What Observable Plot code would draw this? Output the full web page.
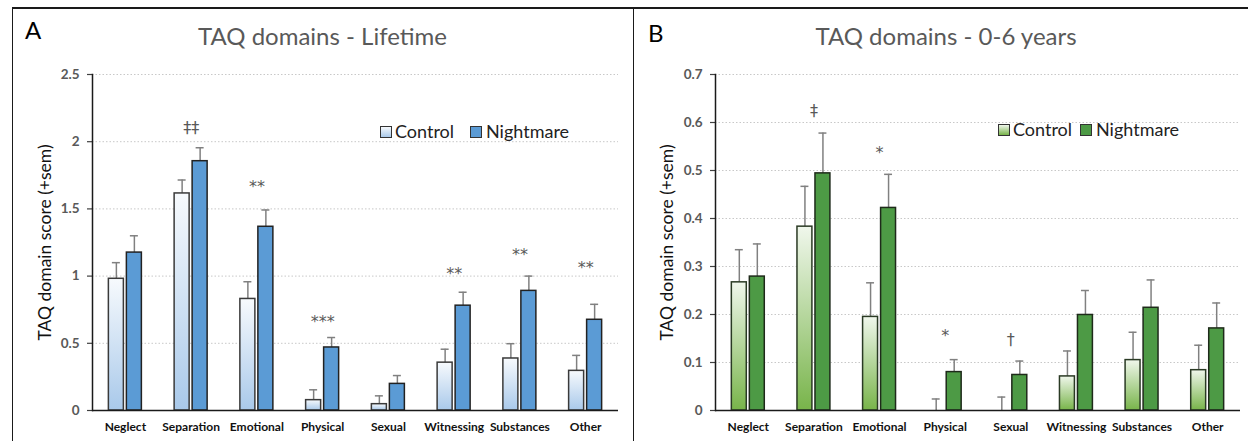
<!DOCTYPE html>
<html><head><meta charset="utf-8">
<script src="https://cdn.jsdelivr.net/npm/d3@7"></script>
<script src="https://cdn.jsdelivr.net/npm/@observablehq/plot@0.6"></script>
<style>
body{margin:0;background:#fff;font-family:Lato,"Open Sans",sans-serif;}
#page{position:relative;width:1248px;height:441px;overflow:hidden;background:#fff;}
.abs{position:absolute;white-space:nowrap;}
.line{position:absolute;background:#1a1a1a;}
.title{font-size:24px;line-height:24px;color:#595959;text-align:center;}
.letter{font-size:24px;line-height:24px;color:#000;}
.sw{position:absolute;width:10px;height:10px;border:1.5px solid #333;}
.lt{position:absolute;font-size:18px;line-height:18px;color:#222;}
</style></head><body><div id="page"></div>
<script>
const categories = ["Neglect","Separation","Emotional","Physical","Sexual","Witnessing","Substances","Other"];
const groups = ["Control","Nightmare"];

// Panel A: Lifetime
const lifetimeControl      = [0.98, 1.615, 0.83, 0.077, 0.047, 0.356, 0.387, 0.295];
const lifetimeControlSem   = [0.12, 0.10, 0.128, 0.077, 0.062, 0.10, 0.11, 0.115];
const lifetimeNightmare    = [1.175, 1.855, 1.367, 0.469, 0.198, 0.78, 0.89, 0.675];
const lifetimeNightmareSem = [0.125, 0.10, 0.125, 0.074, 0.062, 0.10, 0.11, 0.115];
const lifetimeSig   = ["", "\u2021\u2021", "**", "***", "", "**", "**", "**"];
const lifetimeSigY  = [null, 2.10, 1.69, 0.69, null, 1.05, 1.19, 1.09];
const lifetimeTicks = [0, 0.5, 1, 1.5, 2, 2.5];
const lifetimeTickLabels = ["0", "0.5", "1", "1.5", "2", "2.5"];

// Panel B: 0-6 years
const earlyControl      = [0.267, 0.383, 0.195, 0, 0, 0.071, 0.105, 0.084];
const earlyControlSem   = [0.068, 0.084, 0.071, 0.024, 0.028, 0.053, 0.058, 0.052];
const earlyNightmare    = [0.279, 0.494, 0.422, 0.080, 0.074, 0.199, 0.214, 0.171];
const earlyNightmareSem = [0.068, 0.084, 0.070, 0.026, 0.029, 0.051, 0.058, 0.053];
const earlySig   = ["", "\u2021", "*", "*", "\u2020", "", "", ""];
const earlySigY  = [null, 0.625, 0.546, 0.163, 0.148, null, null, null];
const earlyTicks = [0, 0.1, 0.2, 0.3, 0.4, 0.5, 0.6, 0.7];
const earlyTickLabels = ["0", "0.1", "0.2", "0.3", "0.4", "0.5", "0.6", "0.7"];

const yLabel = "TAQ domain score (+sem)";

function rowsOf(control, controlSem, nightmare, nightmareSem) {
  const rows = [];
  categories.forEach((c, i) => {
    rows.push({cat: c, group: groups[0], value: control[i], top: control[i] + controlSem[i]});
    rows.push({cat: c, group: groups[1], value: nightmare[i], top: nightmare[i] + nightmareSem[i]});
  });
  return rows;
}

function gradientDefs(id, top, bottom) {
  return () => {
    const defs = d3.create("svg:defs");
    const g = defs.append("linearGradient").attr("id", id)
      .attr("x1", 0).attr("y1", 0).attr("x2", 0).attr("y2", 1);
    g.append("stop").attr("offset", "0%").attr("stop-color", top);
    g.append("stop").attr("offset", "100%").attr("stop-color", bottom);
    return defs.node();
  };
}

function panel(opt) {
  const rows = rowsOf(opt.control, opt.controlSem, opt.nightmare, opt.nightmareSem);
  const ctrl = rows.filter(d => d.group === groups[0]);
  const night = rows.filter(d => d.group === groups[1]);
  const sig = categories.map((c, i) => ({cat: c, text: opt.sig[i], y: opt.sigY[i]})).filter(d => d.text);
  const stars = sig.filter(d => d.text.includes("*"));
  const daggers = sig.filter(d => !d.text.includes("*"));
  return Plot.plot({
    width: opt.width, height: 441,
    marginLeft: opt.marginLeft, marginRight: opt.marginRight, marginTop: 74, marginBottom: 31,
    style: {fontFamily: "Lato, 'Open Sans', sans-serif", fontSize: "13px", background: "transparent", overflow: "visible"},
    x: {domain: categories, paddingInner: 0.498, paddingOuter: 0.249, round: false, label: null},
    y: {domain: [0, opt.ticks[opt.ticks.length - 1]], label: null},
    marks: [
      gradientDefs(opt.gradId, opt.gradTop, opt.gradBottom),
      Plot.gridY(opt.ticks.filter(t => t > 0), {stroke: "#c8c8c8", strokeOpacity: 1, strokeWidth: 1, strokeDasharray: "1.5,2"}),
      Plot.axisY({ticks: opt.ticks, tickFormat: d => opt.tickLabels[opt.ticks.indexOf(d)], tickSize: 5, tickPadding: 8,
        fontWeight: "bold", fontSize: 13.5, fill: "#595959", stroke: "#404040", strokeWidth: 1.2, label: null}),
      Plot.axisX({tickSize: 0, tickPadding: 12, fontWeight: "bold", fontSize: 12, fill: "#111", label: null}),
      Plot.ruleX(ctrl, {x: "cat", y1: "value", y2: "top", dx: -9, stroke: "#808080", strokeWidth: 1.5}),
      Plot.tickY(ctrl, {x: "cat", y: "top", insetLeft: 3.5, insetRight: 21.5, stroke: "#808080", strokeWidth: 1.5}),
      Plot.ruleX(night, {x: "cat", y1: "value", y2: "top", dx: 9, stroke: "#808080", strokeWidth: 1.5}),
      Plot.tickY(night, {x: "cat", y: "top", insetLeft: 21.5, insetRight: 3.5, stroke: "#808080", strokeWidth: 1.5}),
      Plot.barY(ctrl, {x: "cat", y: "value", insetRight: 18, fill: `url(#${opt.gradId})`, stroke: opt.ctrlStroke, strokeWidth: 1.5}),
      Plot.barY(night, {x: "cat", y: "value", insetLeft: 18, fill: opt.nightFill, stroke: opt.nightStroke, strokeWidth: 1.5}),
      Plot.text(stars, {x: "cat", y: "y", text: "text", fontFamily: "DejaVu Sans", fontSize: 16, fill: "#595959", dy: 4}),
      Plot.text(daggers, {x: "cat", y: "y", text: "text", fontFamily: "DejaVu Sans", fontSize: 16, fill: "#595959", dy: 0}),
      Plot.ruleY([0], {stroke: "#1a1a1a", strokeWidth: 1.5}),
      Plot.frame({anchor: "left", stroke: "#1a1a1a", strokeWidth: 1.5}),
      Plot.text([yLabel], {frameAnchor: "left", textAnchor: "middle", rotate: -90, dx: opt.labelDx, fontSize: 17.5, fill: "#111"})
    ]
  });
}

const page = document.getElementById("page");
function addSvg(svg, left) {
  svg.style.position = "absolute";
  svg.style.left = left + "px";
  svg.style.top = "0px";
  page.appendChild(svg);
}

addSvg(panel({
  control: lifetimeControl, controlSem: lifetimeControlSem,
  nightmare: lifetimeNightmare, nightmareSem: lifetimeNightmareSem,
  sig: lifetimeSig, sigY: lifetimeSigY, ticks: lifetimeTicks, tickLabels: lifetimeTickLabels,
  width: 630, marginLeft: 92, marginRight: 12, labelDx: -47,
  gradId: "gradBlue", gradTop: "#f7fafd", gradBottom: "#a9c9ea",
  ctrlStroke: "#3a3a3a", nightFill: "#5b9bd5", nightStroke: "#222"
}), 0);

addSvg(panel({
  control: earlyControl, controlSem: earlyControlSem,
  nightmare: earlyNightmare, nightmareSem: earlyNightmareSem,
  sig: earlySig, sigY: earlySigY, ticks: earlyTicks, tickLabels: earlyTickLabels,
  width: 614, marginLeft: 81, marginRight: 8, labelDx: -48,
  gradId: "gradGreen", gradTop: "#f0f7ec", gradBottom: "#78b44a",
  ctrlStroke: "#2a3a24", nightFill: "#4d9a45", nightStroke: "#1e2a1a"
}), 634);

// frame lines, titles, letters, legends
function el(cls, css, text) {
  const d = document.createElement("div");
  d.className = cls;
  Object.assign(d.style, css);
  if (text !== undefined) d.textContent = text;
  page.appendChild(d);
  return d;
}
el("line", {left: "12px", top: "7px", width: "1236px", height: "1.5px"});
el("line", {left: "11.5px", top: "7px", width: "1.5px", height: "434px"});
el("line", {left: "632.5px", top: "7px", width: "1.5px", height: "434px"});

el("abs letter", {left: "25px", top: "18px"}, "A");
el("abs letter", {left: "648px", top: "21px"}, "B");
el("abs title", {left: "12px", width: "621px", top: "24px"}, "TAQ domains - Lifetime");
el("abs title", {left: "639px", width: "614px", top: "24px"}, "TAQ domains - 0-6 years");

function legend(x1, t1, x2, t2, cy, grad, night) {
  el("sw", {left: x1 + "px", top: (cy - 6) + "px", background: grad});
  el("lt", {left: t1 + "px", top: (cy - 10) + "px"}, groups[0]);
  el("sw", {left: x2 + "px", top: (cy - 6) + "px", background: night});
  el("lt", {left: t2 + "px", top: (cy - 10) + "px"}, groups[1]);
}
legend(380, 395, 470, 486, 132, "linear-gradient(#f7fafd,#a9c9ea)", "#5b9bd5");
legend(998, 1013, 1080, 1096, 130, "linear-gradient(#f0f7ec,#78b44a)", "#4d9a45");
</script>
</body></html>
